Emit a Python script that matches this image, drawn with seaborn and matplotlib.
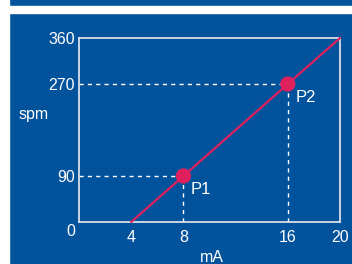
import matplotlib
matplotlib.use("Agg")
import matplotlib.pyplot as plt
import seaborn as sns
import pandas as pd
from matplotlib.patches import Rectangle

# data
line_ma = [4, 20]
line_spm = [0, 360]
point_names = ["P1", "P2"]
point_ma = [8, 16]
point_spm = [90, 270]
x_ticks = [4, 8, 16, 20]
y_ticks = [90, 270, 360]

BLUE = "#03529c"
RED = "#e0205c"
W, H = 352, 264

sns.set_theme(style="white")
plt.rcParams["font.family"] = ["Liberation Sans", "DejaVu Sans"]

fig = plt.figure(figsize=(W / 100, H / 100), dpi=100, facecolor=BLUE)
# white strips framing the panel
fig.patches.append(Rectangle((0, 0), 9 / W, 1, transform=fig.transFigure, color="white", zorder=0))
fig.patches.append(Rectangle((0, 1 - 13 / H), 1, 7 / H, transform=fig.transFigure, color="white", zorder=0))

ax = fig.add_axes([79 / W, 1 - 222 / H, (340 - 79) / W, (222 - 38) / H])
ax.set_facecolor(BLUE)

df_line = pd.DataFrame({"mA": line_ma, "spm": line_spm})
df_pts = pd.DataFrame({"name": point_names, "mA": point_ma, "spm": point_spm})

# dashed guide lines
for x, y in zip(point_ma, point_spm):
    ax.plot([0, x], [y, y], color="white", lw=1, ls=(0, (3, 3)), zorder=1)
    ax.plot([x, x], [0, y], color="white", lw=1, ls=(0, (3, 3)), zorder=1)

sns.lineplot(data=df_line, x="mA", y="spm", color=RED, lw=1.6, ax=ax, zorder=3, clip_on=False)
sns.scatterplot(data=df_pts, x="mA", y="spm", color=RED, s=120, edgecolor="none", ax=ax, zorder=4)

for _, r in df_pts.iterrows():
    ax.annotate(r["name"], (r["mA"], r["spm"]), xytext=(5.5, -9.5), textcoords="offset points",
                color="white", fontsize=12, va="center", ha="left")

ax.set_xlim(0, 20)
ax.set_ylim(0, 360)
ax.set_xticks(x_ticks)
ax.set_yticks(y_ticks)
ax.tick_params(colors="white", labelsize=11.5, length=0, pad=3)
ax.tick_params(axis="x", pad=6)
for s in ax.spines.values():
    s.set_color("#d8dfea")
    s.set_linewidth(1.3)
ax.set_xlabel("")
ax.set_ylabel("")
fig.text(71 / W, 1 - 232 / H, "0", color="white", fontsize=11.5, ha="center", va="center")
fig.text(34 / W, 1 - 115 / H, "spm", color="white", fontsize=11.5, ha="center", va="center")
fig.text(212 / W, 1 - 257 / H, "mA", color="white", fontsize=11.5, ha="center", va="center")

fig.savefig("out.png", dpi=100, facecolor=BLUE)
